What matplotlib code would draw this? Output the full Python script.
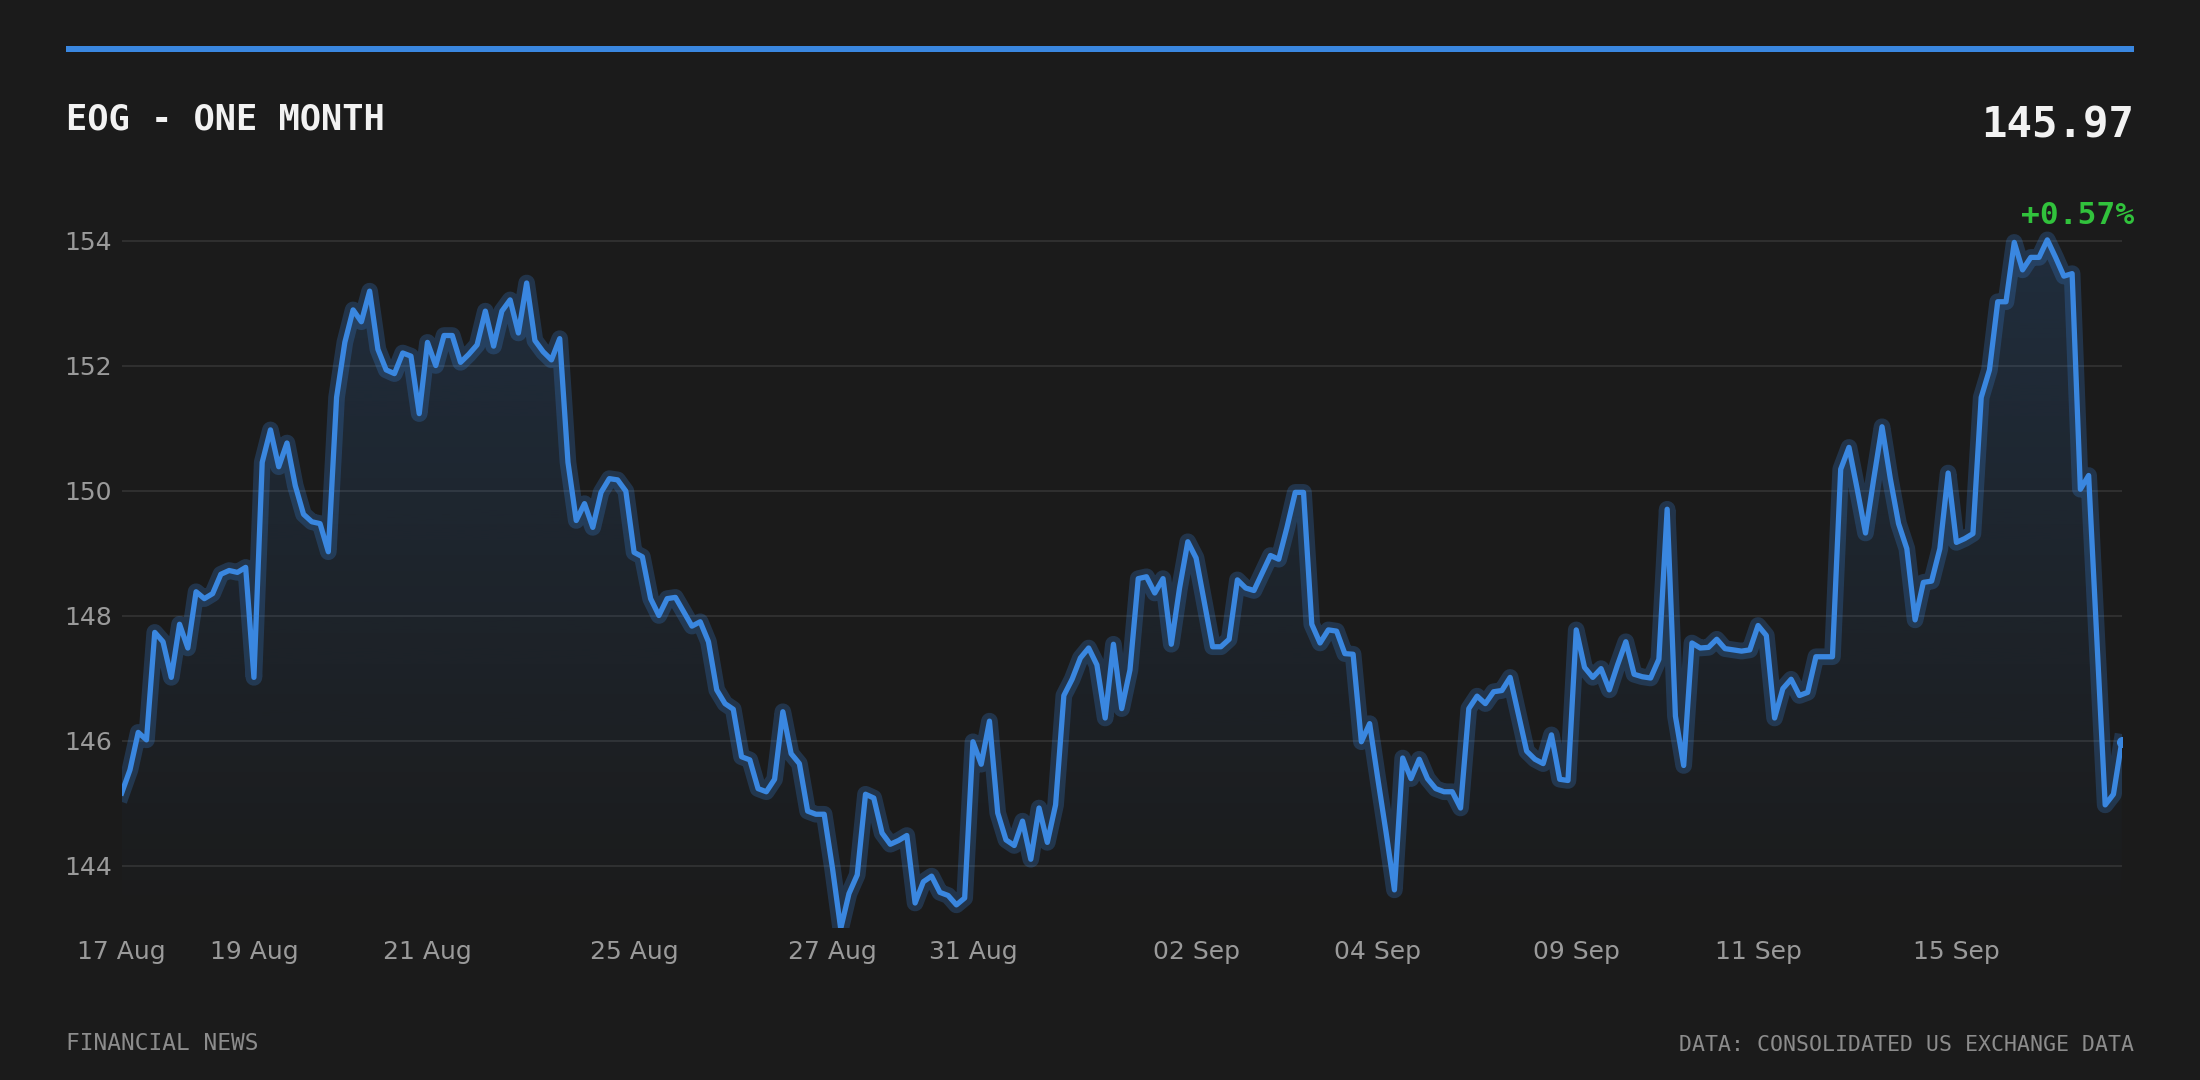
import numpy as np
import matplotlib
matplotlib.use("Agg")
from matplotlib import pyplot as plt
from matplotlib.patches import Polygon, Rectangle

# EOG intraday closes over one month
prices = [
    145.16, 145.53, 146.13, 146.01, 147.73, 147.58, 147.01, 147.86, 147.48, 148.38,
    148.27, 148.35, 148.66, 148.72, 148.69, 148.77, 147.01, 150.45, 150.97, 150.38,
    150.76, 150.08, 149.62, 149.50, 149.47, 149.02, 151.49, 152.37, 152.89, 152.70,
    153.19, 152.26, 151.93, 151.87, 152.20, 152.15, 151.23, 152.37, 152.00, 152.48,
    152.48, 152.05, 152.18, 152.33, 152.87, 152.31, 152.87, 153.05, 152.52, 153.32,
    152.40, 152.22, 152.09, 152.43, 150.45, 149.52, 149.79, 149.41, 149.97, 150.19,
    150.17, 149.99, 149.01, 148.94, 148.27, 148.00, 148.27, 148.29, 148.06, 147.83,
    147.90, 147.58, 146.81, 146.59, 146.50, 145.74, 145.69, 145.23, 145.18, 145.38,
    146.46, 145.79, 145.63, 144.87, 144.82, 144.82, 143.96, 142.99, 143.55, 143.85,
    145.14, 145.08, 144.52, 144.34, 144.40, 144.48, 143.40, 143.74, 143.83, 143.57,
    143.52, 143.37, 143.48, 145.98, 145.62, 146.31, 144.84, 144.41, 144.32, 144.71,
    144.10, 144.92, 144.37, 144.97, 146.72, 146.98, 147.32, 147.48, 147.21, 146.36,
    147.54, 146.51, 147.13, 148.59, 148.62, 148.36, 148.59, 147.54, 148.44, 149.18,
    148.92, 148.21, 147.50, 147.50, 147.62, 148.57, 148.44, 148.40, 148.68, 148.96,
    148.90, 149.41, 149.97, 149.97, 147.86, 147.56, 147.77, 147.75, 147.39, 147.38,
    145.98, 146.27, 145.38, 144.52, 143.61, 145.72, 145.39, 145.70, 145.39, 145.23,
    145.18, 145.18, 144.92, 146.51, 146.71, 146.59, 146.78, 146.80, 147.01, 146.42,
    145.83, 145.70, 145.63, 146.09, 145.38, 145.36, 147.77, 147.17, 147.01, 147.15,
    146.81, 147.21, 147.58, 147.06, 147.02, 147.00, 147.30, 149.70, 146.39, 145.60,
    147.56, 147.48, 147.49, 147.62, 147.47, 147.45, 147.43, 147.45, 147.84, 147.68,
    146.36, 146.83, 146.98, 146.72, 146.77, 147.34, 147.34, 147.34, 150.34, 150.69,
    150.02, 149.32, 150.19, 151.02, 150.19, 149.47, 149.07, 147.93, 148.53, 148.55,
    149.07, 150.28, 149.17, 149.23, 149.31, 151.49, 151.93, 153.02, 153.02, 153.97,
    153.53, 153.73, 153.73, 154.01, 153.73, 153.43, 153.47, 150.02, 150.24, 147.62,
    144.97, 145.14, 145.97,
]

# date labels sit on the sample index where that trading day starts
tick_idx = [0, 16, 37, 62, 86, 103, 130, 152, 176, 198, 222]
tick_labels = ["17 Aug", "19 Aug", "21 Aug", "25 Aug", "27 Aug", "31 Aug",
               "02 Sep", "04 Sep", "09 Sep", "11 Sep", "15 Sep"]
y_ticks = [144, 146, 148, 150, 152, 154]

title = "EOG - ONE MONTH"
last_price = "145.97"
change = "+0.57%"

BG = "#1b1b1b"
BLUE = "#3a87e0"
GRID = "#343434"
TICK = "#9a9a9a"

x = np.arange(len(prices))
y = np.array(prices)
ylo, yhi = 143.0, 154.4

fig = plt.figure(figsize=(22, 10.8), dpi=100, facecolor=BG)
ax = fig.add_axes([121.7 / 2200, 1 - 928 / 1080, 2000 / 2200, 712.5 / 1080])
ax.set_facecolor(BG)

# gradient fill under the line, clipped to the area below the series
verts = [(x[0], ylo)] + list(zip(x, y)) + [(x[-1], ylo)]
area = Polygon(verts, closed=True, facecolor="none", edgecolor="none")
ax.add_patch(area)
grad = np.zeros((256, 1, 4))
grad[..., :3] = matplotlib.colors.to_rgb(BLUE)
grad[..., 3] = np.linspace(0.18, 0.0, 256)[:, None]
im = ax.imshow(grad, extent=[x[0], x[-1], ylo, yhi], aspect="auto",
               origin="upper", zorder=1)
im.set_clip_path(area)

# glow + main line
ax.plot(x, y, color=BLUE, lw=12, alpha=0.24, solid_joinstyle="round", zorder=2)
ax.plot(x, y, color=BLUE, lw=3.8, solid_joinstyle="round", zorder=3)
ax.plot(x[-1], y[-1], "o", color=BLUE, ms=7, zorder=4)

ax.set_xlim(x[0], x[-1])
ax.set_ylim(ylo, yhi)
ax.set_yticks(y_ticks)
ax.set_yticklabels([str(v) for v in y_ticks])
ax.set_xticks(tick_idx)
ax.set_xticklabels(tick_labels)
ax.grid(axis="y", color=GRID, lw=1.2)
ax.set_axisbelow(True)
for s in ax.spines.values():
    s.set_visible(False)
ax.tick_params(axis="both", length=0, colors=TICK, labelsize=18)
ax.tick_params(axis="x", pad=9)
ax.tick_params(axis="y", pad=7)

# header and footer
fig.add_artist(Rectangle((66 / 2200, 1 - 52 / 1080), 2068 / 2200, 6 / 1080,
                         transform=fig.transFigure, color=BLUE, lw=0))
fig.text(66 / 2200, 1 - 119 / 1080, title, family="DejaVu Sans Mono",
         weight="bold", fontsize=25.5, color="#f2f2f2", va="center", ha="left")
fig.text(2134 / 2200, 1 - 125 / 1080, last_price, family="DejaVu Sans Mono",
         weight="bold", fontsize=30.5, color="#f2f2f2", va="center", ha="right")
fig.text(2134 / 2200, 1 - 215 / 1080, change, family="DejaVu Sans Mono",
         weight="bold", fontsize=22.5, color="#31c23c", va="center", ha="right")
fig.text(66 / 2200, 1 - 1044 / 1080, "FINANCIAL NEWS", family="DejaVu Sans Mono",
         fontsize=16.5, color="#8c8c8c", va="center", ha="left")
fig.text(2134 / 2200, 1 - 1045 / 1080, "DATA: CONSOLIDATED US EXCHANGE DATA",
         family="DejaVu Sans Mono", fontsize=15.5, color="#8c8c8c",
         va="center", ha="right")

fig.savefig("out.png", dpi=100, facecolor=BG)
